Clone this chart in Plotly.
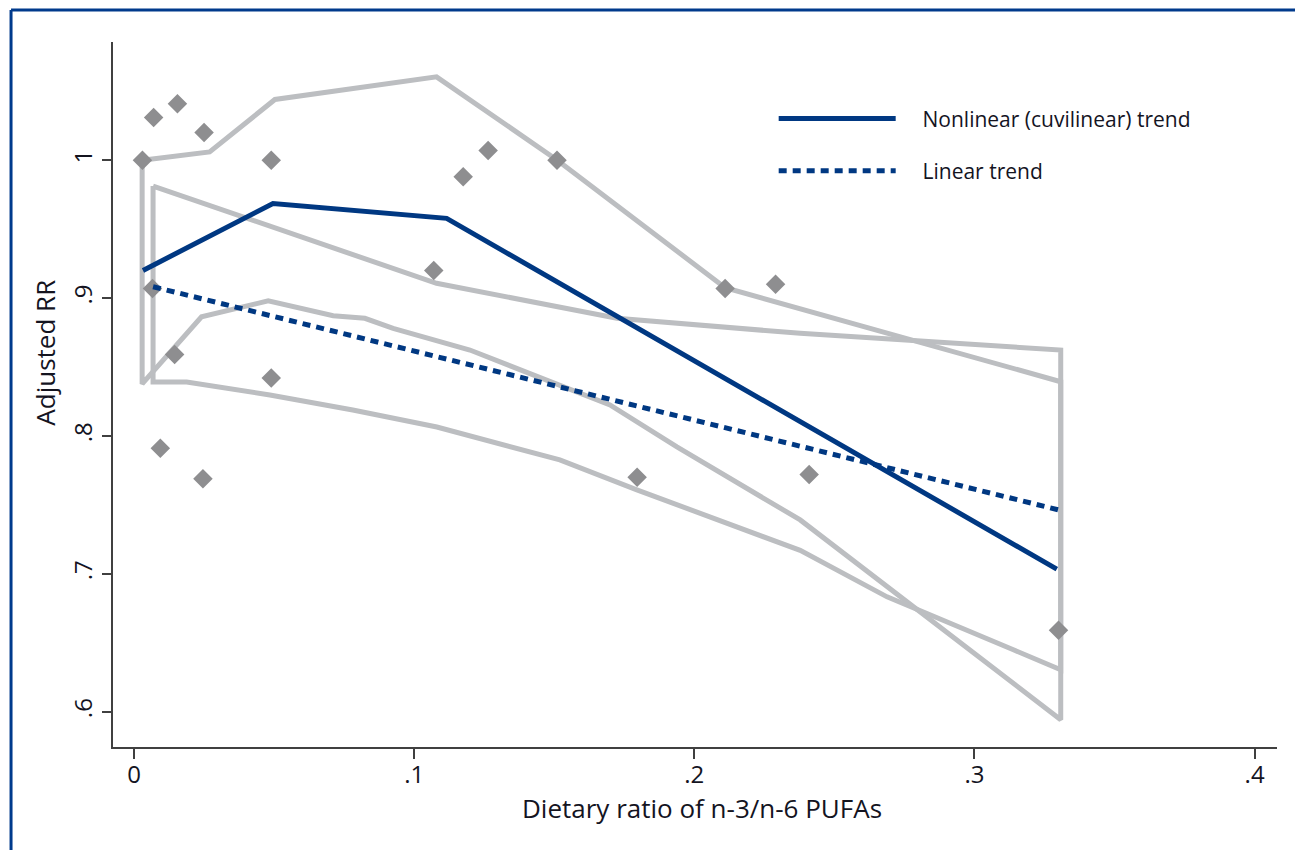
import plotly.graph_objects as go

# ---- data ----
pts_x = [0.003, 0.007, 0.0155, 0.025, 0.049, 0.0066, 0.0145, 0.0094, 0.0246, 0.049,
         0.107, 0.1175, 0.1264, 0.151, 0.1796, 0.211, 0.229, 0.241, 0.330]
pts_y = [1.000, 1.031, 1.041, 1.020, 1.000, 0.907, 0.859, 0.791, 0.769, 0.842,
         0.920, 0.988, 1.007, 1.000, 0.770, 0.907, 0.910, 0.772, 0.659]

nl_x = [0.0032, 0.0496, 0.1116, 0.3294]
nl_y = [0.920, 0.9686, 0.9578, 0.7034]

lin_x = [0.0068, 0.330]
lin_y = [0.9082, 0.7464]

# nonlinear CI (upper left->right, lower left->right)
nlci_up_x = [0.0029, 0.0270, 0.0503, 0.1080, 0.1511, 0.2110, 0.3308]
nlci_up_y = [1.000, 1.006, 1.044, 1.0604, 1.000, 0.9075, 0.8393]
nlci_lo_x = [0.0029, 0.0241, 0.0479, 0.0711, 0.0824, 0.0925, 0.1199, 0.1699, 0.1938, 0.2199, 0.2378, 0.3308]
nlci_lo_y = [0.8377, 0.8864, 0.898, 0.8872, 0.8853, 0.878, 0.8623, 0.8225, 0.792, 0.7609, 0.7391, 0.5942]

# linear CI
lci_up_x = [0.0068, 0.1080, 0.1724, 0.2378, 0.3308]
lci_up_y = [0.9812, 0.9107, 0.8853, 0.8744, 0.8623]
lci_lo_x = [0.0068, 0.0188, 0.0485, 0.0781, 0.1081, 0.1520, 0.1795, 0.2378, 0.2688, 0.3139, 0.3308]
lci_lo_y = [0.8391, 0.8391, 0.8297, 0.8188, 0.8065, 0.7826, 0.7609, 0.7170, 0.6833, 0.6449, 0.6304]

x_ticks = [0, 0.1, 0.2, 0.3, 0.4]
x_ticktext = ["0", ".1", ".2", ".3", ".4"]
y_ticks = [0.6, 0.7, 0.8, 0.9, 1.0]
y_ticktext = [".6", ".7", ".8", ".9", "1"]

GRAY = "#bcbec1"
BLUE = "#003882"
FRAME = "#003a8c"
TXT = "#14141f"
FONT = "Open Sans"
PAD = "\u00a0" * 4


def closed(ux, uy, lx, ly):
    # outline of an interval: upper forward, lower backward, closed
    xs = list(ux) + list(reversed(lx)) + [ux[0]]
    ys = list(uy) + list(reversed(ly)) + [uy[0]]
    return xs, ys


fig = go.Figure()

cx, cy = closed(nlci_up_x, nlci_up_y, nlci_lo_x, nlci_lo_y)
fig.add_trace(go.Scatter(x=cx, y=cy, mode="lines", line=dict(color=GRAY, width=5),
                         showlegend=False, hoverinfo="skip"))
cx, cy = closed(lci_up_x, lci_up_y, lci_lo_x, lci_lo_y)
fig.add_trace(go.Scatter(x=cx, y=cy, mode="lines", line=dict(color=GRAY, width=5),
                         showlegend=False, hoverinfo="skip"))

fig.add_trace(go.Scatter(x=pts_x, y=pts_y, mode="markers",
                         marker=dict(symbol="diamond", size=15, color="#8e8e90", line=dict(width=0)),
                         showlegend=False))

fig.add_trace(go.Scatter(x=nl_x, y=nl_y, mode="lines", name=PAD + "Nonlinear (cuvilinear) trend",
                         line=dict(color=BLUE, width=5), legendgroup="a"))
fig.add_trace(go.Scatter(x=lin_x, y=lin_y, mode="lines", name=PAD + "Linear trend",
                         line=dict(color=BLUE, width=5, dash="8px,6px"), legendgroup="b"))

axis_common = dict(showgrid=False, zeroline=False, showline=True, linecolor="#404040", linewidth=2,
                   ticks="outside", tickcolor="#404040", tickwidth=2,
                   tickfont=dict(family=FONT, size=24, color=TXT))

fig.update_xaxes(range=[-0.0075, 0.408], tickvals=x_ticks, ticktext=x_ticktext, ticklen=10,
                 ticklabelstandoff=-5, **axis_common)
fig.update_yaxes(range=[0.5744, 1.0857], tickvals=y_ticks, ticktext=y_ticktext, ticklen=9,
                 tickangle=-90, **axis_common)

fig.update_layout(
    width=1295, height=842,
    margin=dict(l=105, r=26, t=34, b=103),
    paper_bgcolor="white", plot_bgcolor="white",
    showlegend=True,
    legend=dict(x=0.5676, y=0.92, xanchor="left", yanchor="top", bgcolor="rgba(0,0,0,0)",
                font=dict(family=FONT, size=21, color=TXT), itemwidth=117,
                traceorder="grouped", tracegroupgap=22),
    annotations=[
        dict(text="Dietary ratio of n-3/n-6 PUFAs", xref="paper", yref="paper", x=0.506, y=-0.086,
             showarrow=False, font=dict(family=FONT, size=26, color=TXT), xanchor="center", yanchor="middle"),
        dict(text="Adjusted RR", xref="paper", yref="paper", x=-0.058, y=0.56, textangle=-90,
             showarrow=False, font=dict(family=FONT, size=26, color=TXT), xanchor="center", yanchor="middle"),
    ],
    shapes=[
        dict(type="line", xref="paper", yref="paper", x0=-0.0876, x1=1.05, y0=1.0454, y1=1.0454,
             line=dict(color=FRAME, width=3)),
        dict(type="line", xref="paper", yref="paper", x0=-0.0876, x1=-0.0876, y0=1.0454, y1=-0.2,
             line=dict(color=FRAME, width=3)),
    ],
)

fig.write_html("out.html")
